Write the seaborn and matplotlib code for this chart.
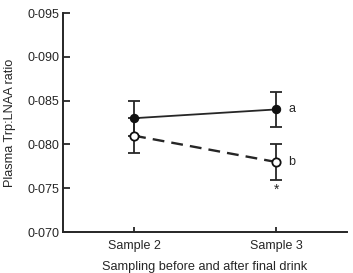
import matplotlib
matplotlib.use("Agg")
import matplotlib.pyplot as plt
import seaborn as sns
import pandas as pd
from matplotlib.ticker import FuncFormatter

samples = ["Sample 2", "Sample 3"]
filled_mean = [0.083, 0.084]
filled_err = [0.002, 0.002]
open_mean = [0.081, 0.078]
open_err = [0.002, 0.002]
yticks = [0.070, 0.075, 0.080, 0.085, 0.090, 0.095]

sns.set_style("ticks")
plt.rcParams["font.family"] = ["Liberation Sans", "DejaVu Sans"]

fig = plt.figure(figsize=(3.53, 2.73), dpi=100)
ax = fig.add_axes([0.179, 0.150, 0.804, 0.802])

x = list(range(len(samples)))
df_f = pd.DataFrame({"x": x, "y": filled_mean})
df_o = pd.DataFrame({"x": x, "y": open_mean})

ec = "#262626"
ax.errorbar(x, filled_mean, yerr=filled_err, fmt="none", ecolor=ec,
            elinewidth=1.3, capsize=4, capthick=1.3, zorder=2)
ax.errorbar(x, open_mean, yerr=open_err, fmt="none", ecolor=ec,
            elinewidth=1.3, capsize=4, capthick=1.3, zorder=2)
sns.lineplot(data=df_f, x="x", y="y", ax=ax, color=ec, lw=1.3,
             marker="o", markersize=6, markerfacecolor="#111111",
             markeredgecolor="#111111", zorder=3)
sns.lineplot(data=df_o, x="x", y="y", ax=ax, color=ec, lw=1.7,
             linestyle=(0, (5, 3)), marker="o", markersize=6,
             markerfacecolor="white", markeredgecolor="#111111",
             markeredgewidth=1.3, zorder=3)

ax.text(1 + 0.085, filled_mean[1], "a", fontsize=9, va="center", ha="left", color=ec)
ax.text(1 + 0.085, open_mean[1], "b", fontsize=9, va="center", ha="left", color=ec)
ax.text(1, open_mean[1] - open_err[1] - 0.0004, "*", fontsize=10, va="top", ha="center", color=ec)

ax.set_xlim(-0.5, 1.5)
ax.set_ylim(0.070, 0.095)
ax.set_xticks(x)
ax.set_xticklabels(samples)
ax.set_yticks(yticks)
ax.yaxis.set_major_formatter(FuncFormatter(lambda v, p: f"{v:.3f}".replace(".", "-")))
ax.tick_params(axis="y", direction="in", length=5, width=1.3, labelsize=9, colors=ec, pad=3)
ax.tick_params(axis="x", direction="in", length=3.5, width=1.3, labelsize=9, colors=ec, pad=6)
for s in ["top", "right"]:
    ax.spines[s].set_visible(False)
for s in ["left", "bottom"]:
    ax.spines[s].set_linewidth(1.4)
    ax.spines[s].set_color(ec)
ax.set_xlabel("Sampling before and after final drink", fontsize=9.2, color=ec, labelpad=6)
ax.set_ylabel("Plasma Trp:LNAA ratio", fontsize=9.2, color=ec, labelpad=8)

fig.savefig("out.png", dpi=100)
